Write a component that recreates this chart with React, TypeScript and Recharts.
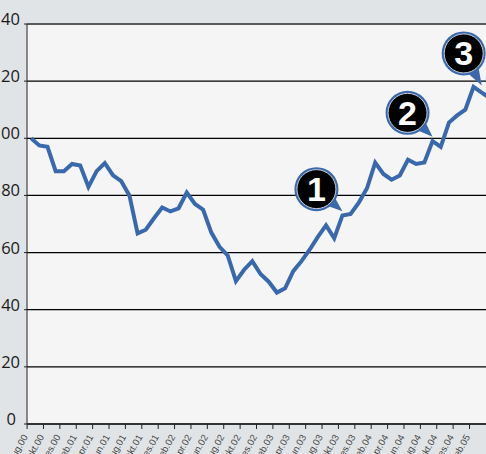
import { LineChart, Line, XAxis, YAxis, CartesianGrid, ReferenceLine, ReferenceDot } from 'recharts';

const MONTHS = [
  'aug.00', 'sep.00', 'okt.00', 'nov.00', 'des.00', 'jan.01', 'feb.01', 'mar.01', 'apr.01', 'mai.01', 'jun.01', 'jul.01',
  'aug.01', 'sep.01', 'okt.01', 'nov.01', 'des.01', 'jan.02', 'feb.02', 'mar.02', 'apr.02', 'mai.02', 'jun.02', 'jul.02',
  'aug.02', 'sep.02', 'okt.02', 'nov.02', 'des.02', 'jan.03', 'feb.03', 'mar.03', 'apr.03', 'mai.03', 'jun.03', 'jul.03',
  'aug.03', 'sep.03', 'okt.03', 'nov.03', 'des.03', 'jan.04', 'feb.04', 'mar.04', 'apr.04', 'mai.04', 'jun.04', 'jul.04',
  'aug.04', 'sep.04', 'okt.04', 'nov.04', 'des.04', 'jan.05', 'feb.05', 'mar.05', 'apr.05',
];

const INDEX_VALUES = [
  100, 97.5, 97, 88.5, 88.5, 91, 90.5, 83, 88.5, 91.3, 87, 85,
  80, 66.7, 68, 72, 75.8, 74.4, 75.5, 81, 77, 75, 67, 62,
  59, 50, 54, 57, 52.5, 49.8, 46, 47.5, 53.5, 57, 61, 65.5,
  69.5, 65, 73, 73.5, 77.5, 82.5, 91.5, 87.5, 85.5, 87, 92.5, 91,
  91.5, 99, 97, 105.5, 108, 110, 118, 116, 114,
];

// every second month, the last one falls outside the picture
const MONTH_TICKS = MONTHS.filter((_, i) => i % 2 === 0 && i < 56);
const Y_TICKS = [0, 20, 40, 60, 80, 100, 120, 140];

const CALLOUTS = [
  { label: '1', month: 'okt.03', value: 74.5, dx: -26, dy: -22 },
  { label: '2', month: 'sep.04', value: 100.5, dx: -25, dy: -24 },
  { label: '3', month: 'mar.05', value: 118.5, dx: -18, dy: -32 },
];

const chartData = MONTHS.map((month, i) => ({ month, value: INDEX_VALUES[i] }));

function MonthTick({ x, y, payload }: any) {
  const tx = x - 3;
  const ty = y + 5;
  return (
    <g>
      <line x1={x - 4} x2={x - 4} y1={y - 8} y2={y - 3} stroke="#222" strokeWidth={1} />
      <text
        x={tx}
        y={ty}
        textAnchor="end"
        fontSize={9.5}
        fill="#444"
        fontFamily="'Liberation Sans Narrow', 'Liberation Sans', sans-serif"
        transform={`rotate(-60 ${tx} ${ty})`}
      >
        {payload.value}
      </text>
    </g>
  );
}

function ValueTick({ y, payload }: any) {
  return (
    <text x={payload.value === 0 ? 16 : 20} y={y + 1} textAnchor="end" fontSize={16.5} fill="#1a1a1a" fontFamily="'Open Sans', sans-serif">
      {payload.value}
    </text>
  );
}

function Callout({ cx, cy, dx, dy, label }: any) {
  const mx = cx + dx;
  const my = cy + dy;
  const len = Math.hypot(dx, dy);
  const nx = -dy / len;
  const ny = dx / len;
  const bx = cx + dx * 0.62;
  const by = cy + dy * 0.62;
  return (
    <g>
      <polygon points={`${cx},${cy} ${bx + nx * 8},${by + ny * 8} ${bx - nx * 8},${by - ny * 8}`} fill="#3a68ad" />
      <circle cx={mx} cy={my} r={22} fill="#3a68ad" />
      <circle cx={mx} cy={my} r={19.5} fill="#000" stroke="#c9ced6" strokeWidth={1} />
      <text x={mx} y={my + 12} textAnchor="middle" fontSize={34} fontWeight={700} fill="#fff" fontFamily="'Liberation Sans', sans-serif">
        {label}
      </text>
    </g>
  );
}

export default function App() {
  return (
    <div style={{ position: 'fixed', left: 0, top: 0, width: 486, height: 454, overflow: 'hidden', background: '#e1e4e7' }}>
      <LineChart width={500} height={454} data={chartData} margin={{ top: 24, right: 6, left: 0, bottom: 0 }}>
        <CartesianGrid horizontal vertical={false} stroke="#000" strokeWidth={1.2} fill="#f5f5f5" />
        <XAxis dataKey="month" scale="band" ticks={MONTH_TICKS} interval={0} axisLine={{ stroke: '#333', strokeWidth: 2 }} tickLine={false} tick={<MonthTick />} height={30} />
        <YAxis width={27} domain={[0, 140]} ticks={Y_TICKS} axisLine={{ stroke: '#222', strokeWidth: 1 }} tickLine={{ stroke: '#222' }} tickSize={3} tick={<ValueTick />} />
        <ReferenceLine y={140} stroke="#5a5a5a" strokeWidth={2} />
        <Line dataKey="value" stroke="#3a68ad" strokeWidth={4} dot={false} strokeLinejoin="miter" isAnimationActive={false} />
        {CALLOUTS.map((c) => (
          <ReferenceDot
            key={c.label}
            x={c.month}
            y={c.value}
            shape={(props: any) => <Callout cx={props.cx} cy={props.cy} dx={c.dx} dy={c.dy} label={c.label} />}
          />
        ))}
      </LineChart>
    </div>
  );
}
